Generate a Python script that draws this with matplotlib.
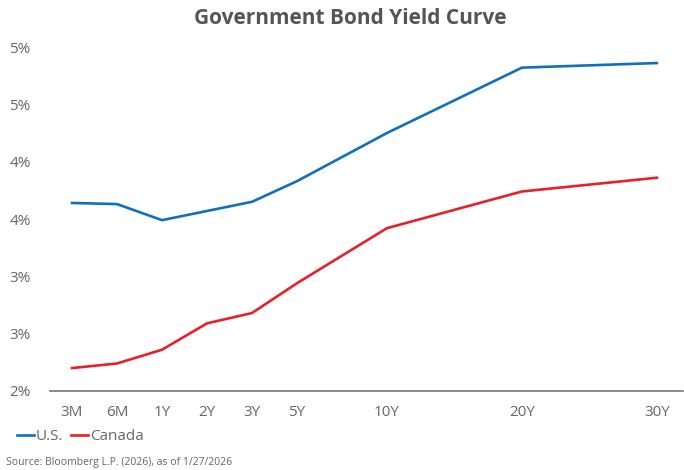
import matplotlib
matplotlib.use("Agg")
import matplotlib.pyplot as plt
from matplotlib.ticker import FuncFormatter
import math

tenors = ["3M", "6M", "1Y", "2Y", "3Y", "5Y", "10Y", "20Y", "30Y"]
tenor_pos = [0, 1, 2, 3, 4, 5, 7, 10, 13]
us_yield = [3.64, 3.63, 3.49, 3.57, 3.65, 3.83, 4.25, 4.82, 4.86]
ca_yield = [2.20, 2.24, 2.36, 2.59, 2.68, 2.94, 3.42, 3.74, 3.86]
y_ticks = [2.0, 2.5, 3.0, 3.5, 4.0, 4.5, 5.0]

US_COLOR = "#1170bb"
CA_COLOR = "#e8202a"
GREY = "#666666"

plt.rcParams['font.family'] = ['Open Sans', 'DejaVu Sans']

fig = plt.figure(figsize=(6.84, 4.70), dpi=100)
ax = fig.add_axes([50/684, 1-391/470, 633/684, (391-47)/470])

ax.plot(tenor_pos, us_yield, color=US_COLOR, lw=1.9, label="U.S.")
ax.plot(tenor_pos, ca_yield, color=CA_COLOR, lw=1.9, label="Canada")

ax.set_xlim(-0.49, 13.58)
ax.set_ylim(2, 5)
ax.set_xticks(tenor_pos)
ax.set_xticklabels(tenors)
ax.set_yticks(y_ticks)
ax.yaxis.set_major_formatter(FuncFormatter(lambda v, p: f"{math.floor(v + 0.5):.0f}%"))

for s in ["top", "right", "left"]:
    ax.spines[s].set_visible(False)
ax.spines["bottom"].set_color("#777777")
ax.spines["bottom"].set_linewidth(1.2)
ax.tick_params(axis="both", length=0, labelsize=11, colors=GREY)
ax.tick_params(axis="y", pad=14)
ax.tick_params(axis="x", pad=10)

fig.text(0.512, 1-19/470, "Government Bond Yield Curve", ha="center", va="center",
         fontsize=15, fontweight="bold", color="#555555")

leg = fig.legend(loc="center left", bbox_to_anchor=(17/684, 1-437/470), ncol=2,
                 frameon=False, fontsize=11, handlelength=1.1, handletextpad=0.15,
                 columnspacing=0.5, borderaxespad=0, borderpad=0)
for t in leg.get_texts():
    t.set_color(GREY)

fig.text(6/684, 1-463/470, "Source: Bloomberg L.P. (2026), as of 1/27/2026", ha="left",
         va="center", fontsize=7.5, color=GREY)

fig.savefig("out.png", dpi=100)
